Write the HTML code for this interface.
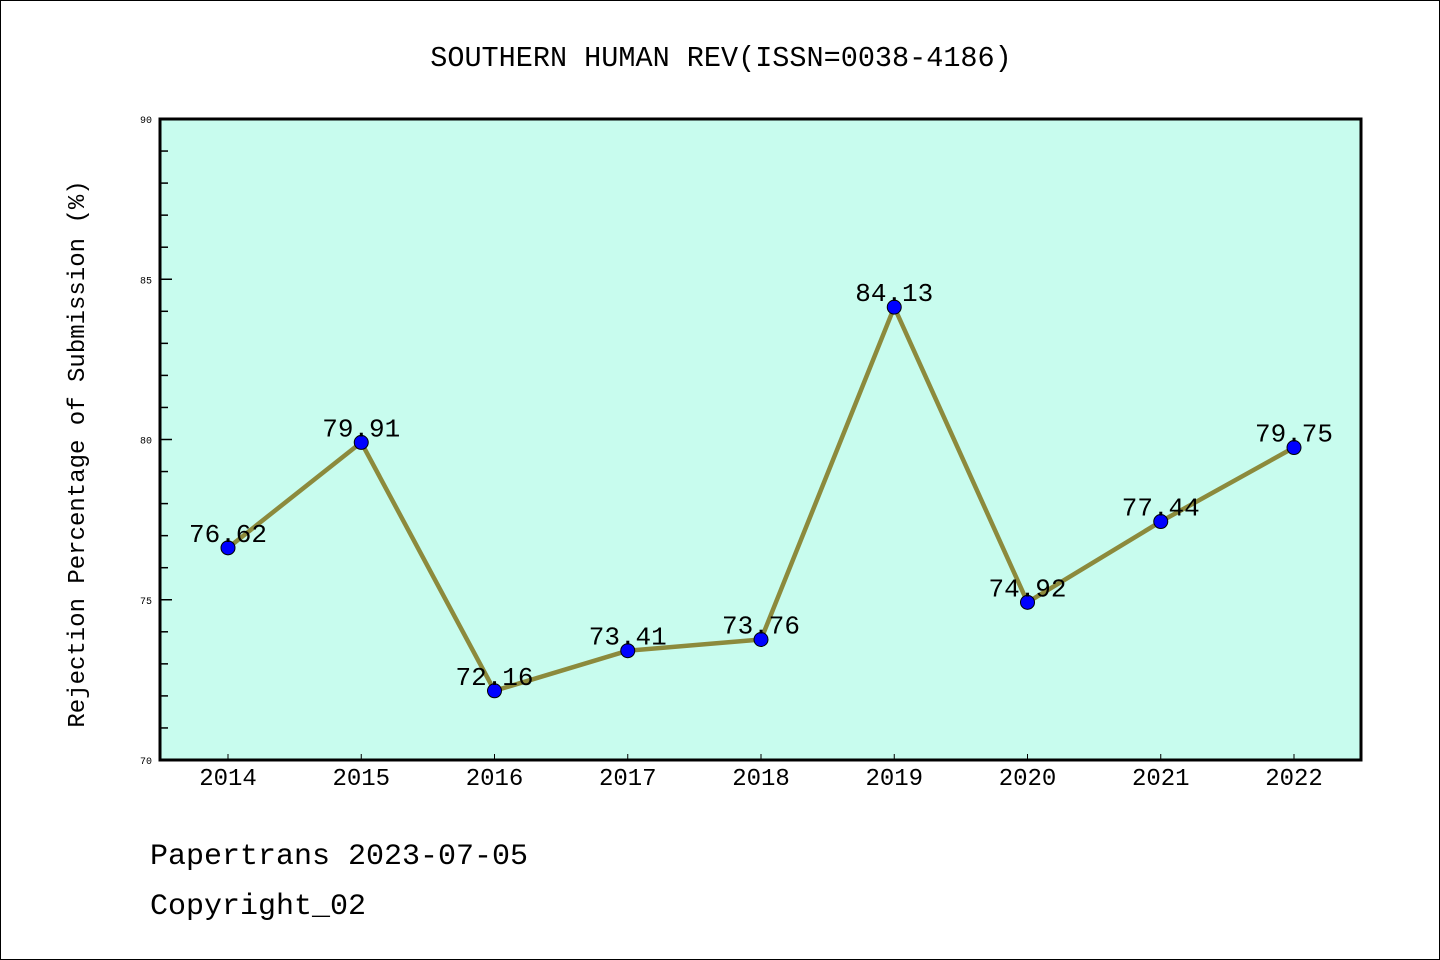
<!DOCTYPE html>
<html><head><meta charset="utf-8"><style>
html,body{margin:0;padding:0;background:#fff}
svg{display:block;font-family:"Liberation Mono","WenQuanYi Zen Hei",monospace}
</style></head><body>
<svg id="chart" width="1440" height="960" xmlns="http://www.w3.org/2000/svg">
<rect x="0.5" y="0.5" width="1439" height="959" fill="#fff" stroke="#000" stroke-width="1"/>
<text x="721" y="66" font-size="28.5" text-anchor="middle">SOUTHERN HUMAN REV(ISSN=0038-4186)</text>
<rect x="160" y="119" width="1201" height="641" fill="#c8fcee"/>
<g id="grid"></g>
<g id="marks"></g>
<rect x="160" y="119" width="1201" height="641" fill="none" stroke="#000" stroke-width="3"/>
<text transform="translate(84,454) rotate(-90)" font-size="24" text-anchor="middle">Rejection Percentage of Submission (%)</text>
<text x="150" y="864" font-size="30">Papertrans 2023-07-05</text>
<text x="150" y="914" font-size="30">Copyright_02</text>
</svg>
<script>
const years = ["2014","2015","2016","2017","2018","2019","2020","2021","2022"];
const values = [76.62,79.91,72.16,73.41,73.76,84.13,74.92,77.44,79.75];
const labels = ["76.62","79.91","72.16","73.41","73.76","84.13","74.92","77.44","79.75"];
const yTicks = [70,75,80,85,90];
const NS="http://www.w3.org/2000/svg";
const X0=160,X1=1361,Y0=760,Y1=119;
const xs=i=>228+i*(1294-228)/8;
const ys=v=>Y0-(v-70)/20*(Y0-Y1);
function mk(t,a,p){const e=document.createElementNS(NS,t);for(const k in a)e.setAttribute(k,a[k]);p.appendChild(e);return e;}
const g=document.getElementById('grid'),m=document.getElementById('marks');
for(let v=71;v<90;v++){if(v%5===0)continue;const l=mk('line',{x1:X0,x2:X0+8,y1:ys(v),y2:ys(v),stroke:'#000','stroke-width':1.5},g);

}
yTicks.forEach(v=>{const l=mk('line',{x1:X0,x2:X0+12,y1:ys(v),y2:ys(v),stroke:'#000','stroke-width':1.5},g);


const t=mk('text',{x:X0-8,y:ys(v)+4,'font-size':10,'text-anchor':'end'},g);t.textContent=v;

});
years.forEach((y,i)=>{const l=mk('line',{x1:xs(i),x2:xs(i),y1:Y0,y2:Y0-6,stroke:'#000','stroke-width':1},g);


const t=mk('text',{x:xs(i),y:785,'font-size':24,'text-anchor':'middle'},g);t.textContent=y;

});
const pl=mk('polyline',{points:values.map((v,i)=>xs(i)+','+ys(v)).join(' '),fill:'none',stroke:'#8c8a3c','stroke-width':4.5,'stroke-linejoin':'round'},m);


values.forEach((v,i)=>{const c=mk('circle',{cx:xs(i),cy:ys(v),r:7,fill:'#0000ff',stroke:'#000','stroke-width':1},m);


const t=mk('text',{x:xs(i),y:ys(v)-6,'font-size':26,'text-anchor':'middle'},m);t.textContent=labels[i];

});
</script>
</body></html>
